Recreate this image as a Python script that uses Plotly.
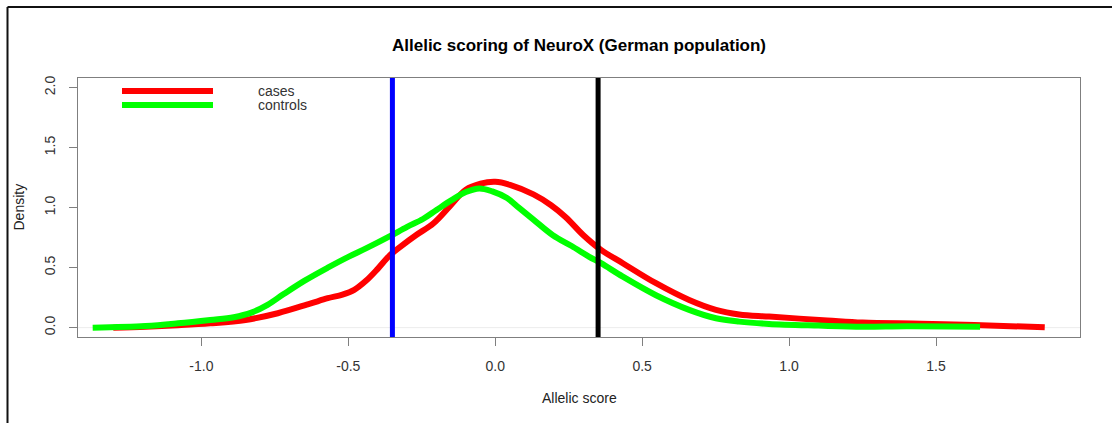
import plotly.graph_objects as go

# Density estimates of the allelic score (x / density pairs)
cases_x = [-1.30, -1.19, -1.08, -0.97, -0.85, -0.74, -0.63, -0.57, -0.52, -0.48,
           -0.44, -0.40, -0.36, -0.32, -0.27, -0.21, -0.155, -0.10, -0.05, 0.00,
           0.05, 0.13, 0.19, 0.24, 0.30, 0.36, 0.434, 0.547, 0.66, 0.751,
           0.83, 0.932, 1.13, 1.25, 1.45, 1.63, 1.87]
cases_y = [0.0, 0.008, 0.02, 0.036, 0.064, 0.12, 0.20, 0.245, 0.275, 0.315,
           0.39, 0.49, 0.60, 0.68, 0.77, 0.87, 1.01, 1.15, 1.20, 1.215,
           1.19, 1.11, 1.02, 0.92, 0.77, 0.648, 0.537, 0.37, 0.23, 0.148,
           0.11, 0.092, 0.06, 0.042, 0.033, 0.022, 0.003]

controls_x = [-1.37, -1.19, -1.08, -0.97, -0.89, -0.83, -0.775, -0.72, -0.65, -0.57,
              -0.50, -0.44, -0.36, -0.30, -0.246, -0.20, -0.15, -0.10, -0.054, -0.01,
              0.04, 0.08, 0.13, 0.196, 0.26, 0.32, 0.36, 0.434, 0.547, 0.66,
              0.751, 0.83, 0.932, 1.10, 1.25, 1.40, 1.65]
controls_y = [0.0, 0.014, 0.036, 0.064, 0.087, 0.125, 0.19, 0.28, 0.39, 0.50,
              0.59, 0.66, 0.76, 0.84, 0.905, 0.98, 1.06, 1.13, 1.16, 1.135,
              1.08, 1.00, 0.90, 0.77, 0.68, 0.59, 0.537, 0.425, 0.27, 0.148,
              0.078, 0.05, 0.031, 0.017, 0.008, 0.012, 0.008]

# Score thresholds marked with vertical lines
thresholds = [-0.35, 0.35]
threshold_colors = ["#0000ff", "#000000"]

x_ticks = [-1.0, -0.5, 0.0, 0.5, 1.0, 1.5]
x_tick_text = ["-1.0", "-0.5", "0.0", "0.5", "1.0", "1.5"]
y_ticks = [0.0, 0.5, 1.0, 1.5, 2.0]
y_tick_text = ["0.0", "0.5", "1.0", "1.5", "2.0"]

series_names = ["cases", "controls"]
series_colors = ["#ff0000", "#00ff00"]

W, H = 1112, 423
ML, MR, MT, MB = 78, 32, 78, 86
FONT = "Liberation Sans, Arial, Helvetica, sans-serif"


def px_x(px):
    return (px - ML) / (W - ML - MR)


def px_y(py):
    return (H - MB - py) / (H - MT - MB)


fig = go.Figure()
for xs, ys, name, col in zip([cases_x, controls_x], [cases_y, controls_y],
                             series_names, series_colors):
    fig.add_trace(go.Scatter(
        x=xs, y=ys, mode="lines", name=name,
        line=dict(color=col, width=6, shape="spline", smoothing=1.0),
        showlegend=False, hoverinfo="skip",
    ))

shapes = []
# light zero line
shapes.append(dict(type="line", xref="paper", yref="y", x0=0, x1=1, y0=0, y1=0,
                   line=dict(color="#ececec", width=1), layer="below"))
# threshold lines
for v, c in zip(thresholds, threshold_colors):
    shapes.append(dict(type="line", xref="x", yref="paper", x0=v, x1=v, y0=0, y1=1,
                       line=dict(color=c, width=5), layer="above"))

# legend keys
legend_rows = [91, 105]
annotations = []
for name, col, py in zip(series_names, series_colors, legend_rows):
    shapes.append(dict(type="line", xref="paper", yref="paper",
                       x0=px_x(122), x1=px_x(213), y0=px_y(py), y1=px_y(py),
                       line=dict(color=col, width=6)))
    annotations.append(dict(text=name, xref="paper", yref="paper",
                            x=px_x(256), y=px_y(py), xanchor="left", yanchor="middle",
                            showarrow=False, font=dict(size=14, color="#333333", family=FONT)))

# outer frame (left and top edges)
shapes.append(dict(type="line", xref="paper", yref="paper",
                   x0=px_x(7.5), x1=px_x(7.5), y0=px_y(H + 2), y1=px_y(7),
                   line=dict(color="#111111", width=2)))
shapes.append(dict(type="line", xref="paper", yref="paper",
                   x0=px_x(7.5), x1=px_x(W + 2), y0=px_y(7), y1=px_y(7),
                   line=dict(color="#111111", width=2)))

# title and axis titles
annotations.append(dict(text="<b>Allelic scoring of NeuroX (German population)</b>",
                        xref="paper", yref="paper", x=0.5, y=px_y(45),
                        xanchor="center", yanchor="middle", showarrow=False,
                        font=dict(size=17, color="#000000", family=FONT)))
annotations.append(dict(text="Allelic score", xref="paper", yref="paper",
                        x=0.5, y=px_y(398), xanchor="center", yanchor="middle",
                        showarrow=False, font=dict(size=14, color="#222222", family=FONT)))
annotations.append(dict(text="Density", xref="paper", yref="paper",
                        x=px_x(18), y=0.5, xanchor="center", yanchor="middle",
                        textangle=-90, showarrow=False,
                        font=dict(size=14, color="#222222", family=FONT)))

axis_common = dict(showgrid=False, zeroline=False, showline=True, mirror=True,
                   linecolor="#7f7f7f", linewidth=1, ticks="outside", ticklen=8,
                   tickcolor="#7f7f7f", tickwidth=1,
                   tickfont=dict(size=14, color="#333333", family=FONT))

fig.update_layout(
    width=W, height=H,
    margin=dict(l=ML, r=MR, t=MT, b=MB),
    paper_bgcolor="white", plot_bgcolor="white",
    xaxis=dict(range=[-1.42, 1.99], tickvals=x_ticks, ticktext=x_tick_text,
               ticklabelstandoff=8, **axis_common),
    yaxis=dict(range=[-0.078, 2.08], tickvals=y_ticks, ticktext=y_tick_text,
               tickangle=-90, ticklabelstandoff=8, **axis_common),
    shapes=shapes,
    annotations=annotations,
)

fig.write_html("out.html")
